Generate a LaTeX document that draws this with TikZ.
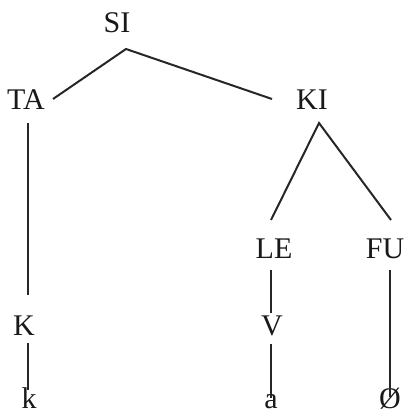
\documentclass[tikz,border=0pt]{standalone}
\usepackage{fontspec}
\setmainfont{Liberation Serif}
\tikzset{
  seg/.style={anchor=base,inner sep=0pt,text=black!90,font=\fontsize{30}{36}\selectfont},
  branch/.style={line width=2pt,black!85}
}
\begin{document}
\begin{tikzpicture}[x=1pt,y=-1pt]
\useasboundingbox (0,0) rectangle (406,414);

% feature nodes
\node[seg] (SI) at (117,33) {SI};
\node[seg] (TA) at (26,110) {TA};
\node[seg] (KI) at (312,110) {KI};
\node[seg] (LE) at (274,258) {LE};
\node[seg] (FU) at (385,258) {FU};
\node[seg] (K) at (24,335) {K};
\node[seg] (V) at (272,335) {V};

% segments
\node[seg] (k) at (29,408) {k};
\node[seg] (a) at (271,408) {a};
\node[seg] (O) at (390,408) {Ø};

% branches
\draw[branch] ([shift={(27,-11)}]TA.base) -- ([shift={(9,16)}]SI.base) -- ([shift={(-40,-11)}]KI.base);
\draw[branch] ([shift={(2,13)}]TA.base) -- ([shift={(4,-40)}]K.base);
\draw[branch] ([shift={(4,8)}]K.base) -- ([shift={(-1,-18)}]k.base);
\draw[branch] ([shift={(-3,-38)}]LE.base) -- ([shift={(7,13)}]KI.base) -- ([shift={(6,-38)}]FU.base);
\draw[branch] ([shift={(-3,12)}]LE.base) -- ([shift={(-1,-22)}]V.base);
\draw[branch] ([shift={(-1,9)}]V.base) -- ([shift={(0,-10)}]a.base);
\draw[branch] ([shift={(5,12)}]FU.base) -- ([shift={(0,-11)}]O.base);
\end{tikzpicture}
\end{document}
